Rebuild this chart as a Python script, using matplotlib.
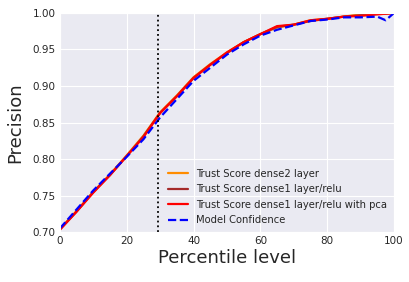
import matplotlib
matplotlib.use("Agg")
import matplotlib.pyplot as plt
import seaborn as sns

sns.set_style("darkgrid")
plt.rcParams['font.family'] = ['DejaVu Sans']

pct = [0, 5, 10, 15, 20, 25, 30, 35, 40, 45, 50, 55, 60, 65, 70, 75, 80, 85, 90, 95, 97.5, 100]
dense2 = [0.704, 0.729, 0.755, 0.779, 0.805, 0.832, 0.864, 0.887, 0.912, 0.930, 0.946, 0.960, 0.971, 0.980, 0.984, 0.990, 0.992, 0.995, 0.998, 0.999, 0.999, 1.0]
dense1 = [0.704, 0.728, 0.755, 0.778, 0.804, 0.831, 0.863, 0.886, 0.911, 0.929, 0.945, 0.960, 0.971, 0.981, 0.984, 0.989, 0.992, 0.995, 0.997, 0.999, 0.999, 1.0]
dense1_pca = [0.703, 0.728, 0.754, 0.778, 0.804, 0.830, 0.863, 0.886, 0.911, 0.929, 0.946, 0.960, 0.971, 0.982, 0.984, 0.990, 0.992, 0.995, 0.996, 0.998, 0.999, 1.0]
model_conf = [0.705, 0.731, 0.757, 0.780, 0.803, 0.827, 0.857, 0.882, 0.907, 0.925, 0.943, 0.957, 0.969, 0.977, 0.983, 0.989, 0.991, 0.994, 0.994, 0.995, 0.990, 1.0]
cutoff = 29.3

fig = plt.figure(figsize=(4.1, 2.82), dpi=100)
ax = fig.add_axes([0.146, 0.177, 0.815, 0.777])
ax.plot(pct, dense2, color='darkorange', lw=1.6, label='Trust Score dense2 layer')
ax.plot(pct, dense1, color='brown', lw=1.6, label='Trust Score dense1 layer/relu')
ax.plot(pct, dense1_pca, color='red', lw=1.6, label='Trust Score dense1 layer/relu with pca')
ax.plot(pct, model_conf, color='blue', lw=1.6, ls='--', label='Model Confidence')
ax.axvline(cutoff, color='black', ls=':', lw=1.3)
ax.set_xlim(0, 100)
ax.set_ylim(0.70, 1.00)
ax.set_xticks([0, 20, 40, 60, 80, 100])
ax.set_yticks([0.70, 0.75, 0.80, 0.85, 0.90, 0.95, 1.00])
ax.set_yticklabels(['0.70', '0.75', '0.80', '0.85', '0.90', '0.95', '1.00'])
ax.tick_params(labelsize=7.5, colors='.15', length=0, pad=3)
ax.set_xlabel('Percentile level', fontsize=13, color='.15', labelpad=2)
ax.set_ylabel('Precision', fontsize=13, color='.15', labelpad=6)
ax.legend(loc='lower right', frameon=False, fontsize=7.2, handlelength=2.0,
          borderaxespad=0.3, labelspacing=0.55)
fig.savefig('out.png', dpi=100)
